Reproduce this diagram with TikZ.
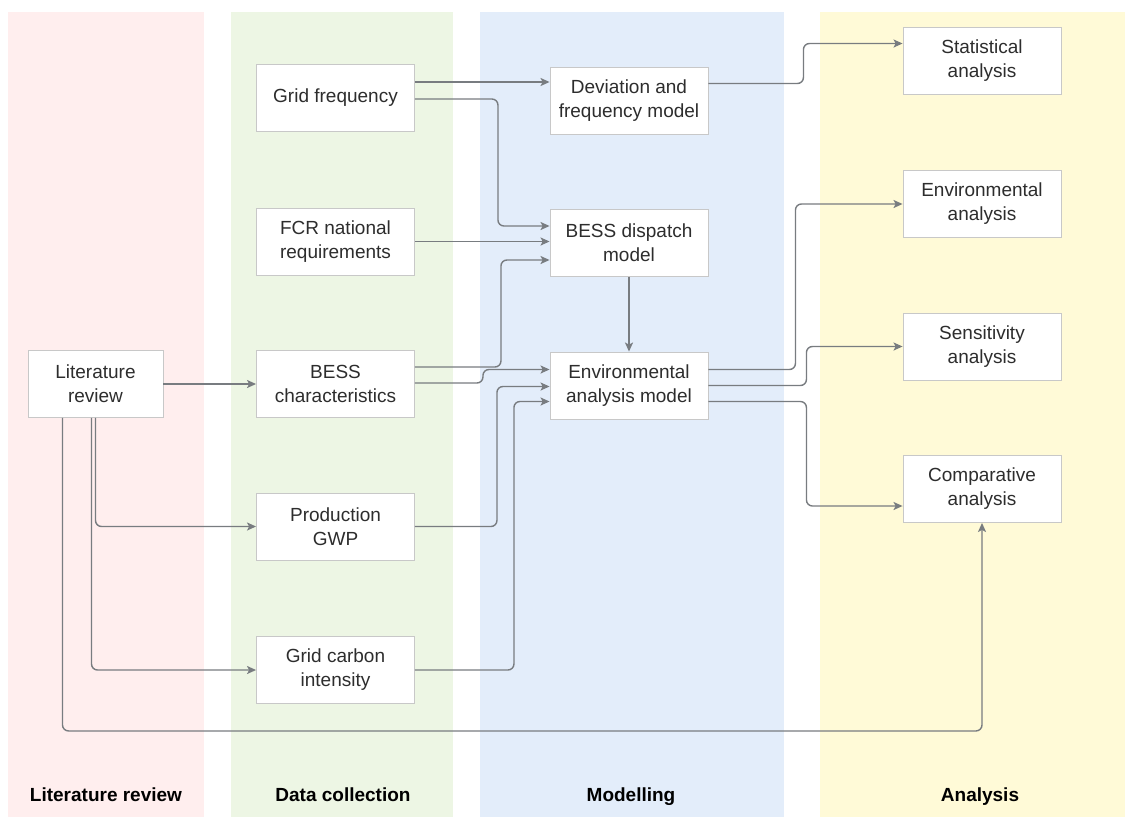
\documentclass[tikz,border=0pt]{standalone}
\usepackage{fontspec}
\setmainfont{Liberation Sans}
\usetikzlibrary{arrows.meta,positioning}

\definecolor{lanepink}{RGB}{255,238,238}
\definecolor{lanegreen}{RGB}{237,246,228}
\definecolor{laneblue}{RGB}{227,237,250}
\definecolor{laneyellow}{RGB}{255,250,215}
\definecolor{boxline}{RGB}{200,200,200}
\definecolor{flowgray}{RGB}{120,124,128}
\definecolor{txtgray}{RGB}{45,45,45}

\begin{document}
\begin{tikzpicture}[x=1pt,y=-1pt]
\tikzset{
  procbox/.style={rectangle,draw=boxline,fill=white,line width=0.9pt,minimum width=158pt,minimum height=67pt,
    inner sep=2pt,align=center,text=txtgray,font=\fontsize{19}{24}\selectfont},
  lanelabel/.style={anchor=base,font=\fontsize{19}{24}\selectfont\bfseries,text=black},
  flow/.style={draw=flowgray,line width=1.4pt,rounded corners=6pt,-{Stealth[length=9pt,width=8pt,inset=2pt]}}
}
\useasboundingbox (0,0) rectangle (1135,828);
\fill[white] (0,0) rectangle (1135,828);
% lanes
\fill[lanepink] (8,12) rectangle (204,817);
\fill[lanegreen] (231,12) rectangle (453,817);
\fill[laneblue] (480,12) rectangle (784,817);
\fill[laneyellow] (820,12) rectangle (1125,817);
\node[lanelabel] (l_lit) at (106,801) {Literature review};
\node[lanelabel] (l_data) at (343,801) {Data collection};
\node[lanelabel] (l_mod) at (631,801) {Modelling};
\node[lanelabel] (l_ana) at (980,801) {Analysis};
% boxes
\node[procbox,minimum width=135pt] (n_lit) at (95.5,384) {Literature\\review};
\node[procbox] (n_gf) at (335.5,98) {Grid frequency};
\node[procbox] (n_fcr) at (335.5,241.5) {FCR national\\requirements};
\node[procbox] (n_bess) at (335.5,384) {BESS\\characteristics};
\node[procbox] (n_gwp) at (335.5,526.5) {Production\\GWP};
\node[procbox] (n_gci) at (335.5,670) {Grid carbon\\intensity};
\node[procbox] (n_dev) at (629,100.5) {Deviation and\\frequency model};
\node[procbox] (n_disp) at (629,243) {BESS dispatch\\model};
\node[procbox] (n_env) at (629,385.5) {Environmental\\analysis model};
\node[procbox] (n_stat) at (982,60.5) {Statistical\\analysis};
\node[procbox] (n_enva) at (982,204) {Environmental\\analysis};
\node[procbox] (n_sens) at (982,346.5) {Sensitivity\\analysis};
\node[procbox] (n_comp) at (982,489) {Comparative\\analysis};
% connectors
\draw[flow] ([yshift=16pt]n_gf.east) -- ([yshift=16pt]n_gf.east -| n_dev.west);
\draw[flow] ([yshift=-1pt]n_gf.east) -- ++(83,0) |- ([yshift=17pt]n_disp.west);
\draw[flow] (n_fcr.east) -- (n_fcr.east -| n_disp.west);
\draw[flow] ([yshift=17pt]n_bess.east) -- ++(86,0) |- ([yshift=-17pt]n_disp.west);
\draw[flow] ([yshift=1pt]n_bess.east) -- ++(68,0) |- ([yshift=16pt]n_env.west);
\draw[flow] (n_gwp.east) -- ++(82,0) |- ([yshift=-1pt]n_env.west);
\draw[flow] (n_gci.east) -- ++(99,0) |- ([yshift=-16pt]n_env.west);
\draw[flow] (n_disp.south) -- (n_env.north);
\draw[flow] ([yshift=17pt]n_dev.east) -- ++(95,0) |- ([yshift=17pt]n_stat.west);
\draw[flow] ([yshift=16pt]n_env.east) -- ++(87,0) |- (n_enva.west);
\draw[flow] (n_env.east) -- ++(98,0) |- (n_sens.west);
\draw[flow] ([yshift=-16pt]n_env.east) -- ++(98,0) |- ([yshift=-17pt]n_comp.west);
\draw[flow] (n_lit.east) -- (n_bess.west);
\draw[flow] (n_lit.south) |- (n_gwp.west);
\draw[flow] ([xshift=-4pt]n_lit.south) |- (n_gci.west);
\draw[flow] ([xshift=-33pt]n_lit.south) -- ++(0,313) -| (n_comp.south);
\end{tikzpicture}
\end{document}
